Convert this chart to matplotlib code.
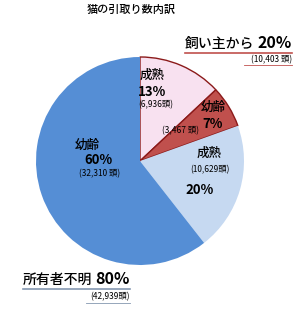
import matplotlib
matplotlib.use("Agg")
import matplotlib.pyplot as plt

plt.rcParams['font.family'] = ['Noto Sans CJK JP', 'DejaVu Sans']

title = "猫の引取り数内訳"
labels = ["成熟", "幼齢", "成熟", "幼齢"]
counts = [6936, 3467, 10629, 32310]
pcts = ["13%", "7%", "20%", "60%"]
count_labels = ["(6,936頭)", "(3,467 頭)", "(10,629頭)", "(32,310 頭)"]
group_labels = ["飼い主から", "所有者不明"]
group_pcts = ["20%", "80%"]
group_counts = ["(10,403 頭)", "(42,939頭)"]
colors = ["#F8E1F0", "#C0504D", "#C6D9F1", "#558ED5"]

W, H = 297, 310
fig = plt.figure(figsize=(W / 100, H / 100), dpi=100)
ax = fig.add_axes([0, 0, 1, 1])

def Y(y):
    return H - y

wedges, _ = ax.pie(counts, colors=colors, startangle=90, counterclock=False,
                   center=(140, Y(161)), radius=104, explode=[0.015, 0.015, 0, 0],
                   frame=True)
for w in wedges[:2]:
    w.set_edgecolor("#8B1A1A")
    w.set_linewidth(1.0)
for w in wedges[2:]:
    w.set_edgecolor("none")
ax.set_xlim(0, W)
ax.set_ylim(0, H)
ax.set_aspect('equal')
ax.axis('off')

MW = 'medium'
ax.text(131, Y(10), title, ha='center', va='center', fontsize=8, fontweight=MW)

# inside labels
ax.text(152, Y(75), labels[0], ha='center', va='center', fontsize=9, fontweight=MW)
ax.text(152, Y(92), pcts[0], ha='center', va='center', fontsize=9.5, fontweight='bold')
ax.text(156, Y(105), count_labels[0], ha='center', va='center', fontsize=6)

ax.text(213, Y(107), labels[1], ha='center', va='center', fontsize=9, fontweight=MW)
ax.text(213, Y(124), pcts[1], ha='center', va='center', fontsize=9.5, fontweight='bold')
ax.text(181, Y(131), count_labels[1], ha='center', va='center', fontsize=6)

ax.text(209, Y(153), labels[2], ha='center', va='center', fontsize=9, fontweight=MW)
ax.text(210, Y(170), count_labels[2], ha='center', va='center', fontsize=6)
ax.text(200, Y(190), pcts[2], ha='center', va='center', fontsize=9.5, fontweight='bold')

ax.text(87, Y(145), labels[3], ha='center', va='center', fontsize=9, fontweight=MW)
ax.text(98, Y(160), pcts[3], ha='center', va='center', fontsize=9.5, fontweight='bold')
ax.text(100, Y(174), count_labels[3], ha='center', va='center', fontsize=6)

# group labels (top right)
ax.text(185, Y(44), group_labels[0], ha='left', va='center', fontsize=10, fontweight=MW)
ax.text(292, Y(43), group_pcts[0], ha='right', va='center', fontsize=11.5, fontweight='bold')
ax.plot([185, 292], [Y(52.5), Y(52.5)], color="#C0504D", lw=1.2)
ax.text(292, Y(60), group_counts[0], ha='right', va='center', fontsize=6)
ax.plot([244, 292], [Y(65), Y(65)], color="#C0504D", lw=0.6)

# group labels (bottom left)
ax.text(23, Y(280), group_labels[1], ha='left', va='center', fontsize=10, fontweight=MW)
ax.text(130, Y(279), group_pcts[1], ha='right', va='center', fontsize=11.5, fontweight='bold')
ax.plot([23, 130], [Y(288.5), Y(288.5)], color="#8497B0", lw=1.2)
ax.text(130, Y(297), group_counts[1], ha='right', va='center', fontsize=6)
ax.plot([86, 130], [Y(303), Y(303)], color="#8497B0", lw=0.6)

fig.savefig("out.png", dpi=100)
